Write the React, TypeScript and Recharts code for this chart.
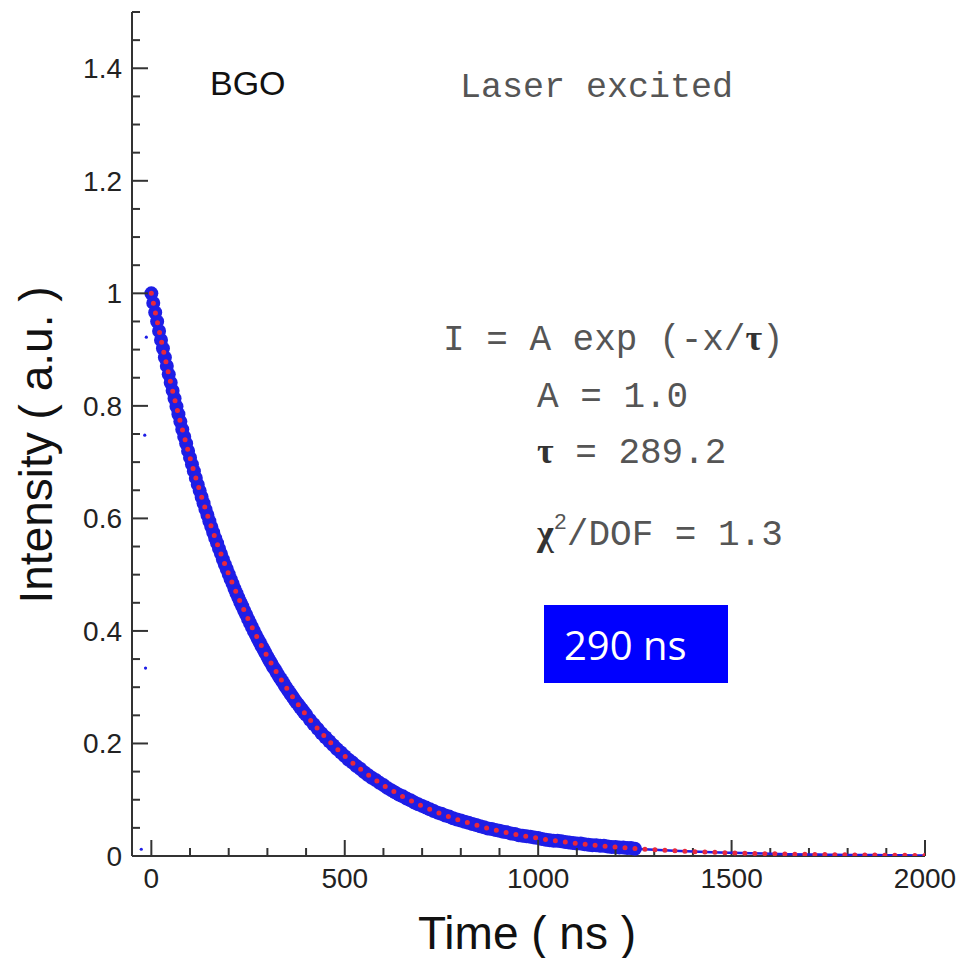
import React from "react";
import { ComposedChart, XAxis, YAxis, Scatter, Line } from "recharts";

// ---- data ----
const denseTimes = [
  0, 5, 10, 15, 20, 25, 30, 35, 40, 45,
  50, 55, 60, 65, 70, 75, 80, 85, 90, 95,
  100, 105, 110, 115, 120, 125, 130, 135, 140, 145,
  150, 155, 160, 165, 170, 175, 180, 185, 190, 195,
  200, 205, 210, 215, 220, 225, 230, 235, 240, 245,
  250, 255, 260, 265, 270, 275, 280, 285, 290, 295,
  300, 305, 310, 315, 320, 325, 330, 335, 340, 345,
  350, 355, 360, 365, 370, 375, 380, 385, 390, 395,
  400,
];
const denseIntensity = [
  1.0, 0.983, 0.966, 0.95, 0.933, 0.917, 0.902, 0.886, 0.871, 0.856,
  0.841, 0.827, 0.813, 0.799, 0.785, 0.772, 0.758, 0.745, 0.733, 0.72,
  0.708, 0.696, 0.684, 0.672, 0.66, 0.649, 0.638, 0.627, 0.616, 0.606,
  0.595, 0.585, 0.575, 0.565, 0.556, 0.546, 0.537, 0.527, 0.518, 0.51,
  0.501, 0.492, 0.484, 0.475, 0.467, 0.459, 0.451, 0.444, 0.436, 0.429,
  0.421, 0.414, 0.407, 0.4, 0.393, 0.386, 0.38, 0.373, 0.367, 0.361,
  0.354, 0.348, 0.342, 0.336, 0.331, 0.325, 0.319, 0.314, 0.309, 0.303,
  0.298, 0.293, 0.288, 0.283, 0.278, 0.273, 0.269, 0.264, 0.26, 0.255,
  0.251,
];
const sparseTimes = [
  410, 420, 430, 440, 450, 460, 470, 480, 490, 500,
  510, 520, 530, 540, 550, 560, 570, 580, 590, 600,
  610, 620, 630, 640, 650, 660, 670, 680, 690, 700,
  710, 720, 730, 740, 750, 760, 770, 780, 790, 800,
  810, 820, 830, 840, 850, 860, 870, 880, 890, 900,
  910, 920, 930, 940, 950, 960, 970, 980, 990, 1000,
  1010, 1020, 1030, 1040, 1050, 1060, 1070, 1080, 1090, 1100,
  1110, 1120, 1130, 1140, 1150, 1160, 1170, 1180, 1190, 1200,
  1210, 1220, 1230, 1240, 1250,
];
const sparseIntensity = [
  0.242, 0.234, 0.226, 0.218, 0.211, 0.204, 0.197, 0.19, 0.184, 0.1775,
  0.171, 0.166, 0.16, 0.155, 0.149, 0.144, 0.139, 0.135, 0.13, 0.126,
  0.121, 0.117, 0.113, 0.109, 0.106, 0.102, 0.099, 0.095, 0.092, 0.089,
  0.086, 0.083, 0.08, 0.077, 0.075, 0.072, 0.07, 0.067, 0.065, 0.063,
  0.061, 0.059, 0.057, 0.055, 0.053, 0.051, 0.049, 0.048, 0.046, 0.045,
  0.043, 0.042, 0.04, 0.039, 0.037, 0.036, 0.035, 0.034, 0.033, 0.032,
  0.03, 0.029, 0.028, 0.027, 0.027, 0.026, 0.025, 0.024, 0.023, 0.022,
  0.022, 0.021, 0.02, 0.019, 0.019, 0.018, 0.018, 0.017, 0.016, 0.016,
  0.015, 0.015, 0.014, 0.014, 0.013,
];
const tailTimes = [1250, 1300, 1350, 1400, 1450, 1500, 1550, 1600, 1650, 1700, 1750, 1800, 1850, 1900, 1950, 2000];
const tailIntensity = [0.013, 0.011, 0.0094, 0.0079, 0.0066, 0.0056, 0.0047, 0.004, 0.0033, 0.0028, 0.0024, 0.002, 0.0017, 0.0014, 0.0012, 0.001];
const strayTimes = [-13, -17, -15, -26];
const strayIntensity = [0.922, 0.748, 0.334, 0.012];
const fitTimes = [
  0, 50, 100, 150, 200, 250, 300, 350, 400, 450, 500, 550, 600, 650, 700, 750, 800, 850, 900, 950,
  1000, 1050, 1100, 1150, 1200, 1250, 1300, 1350, 1400, 1450, 1500, 1550, 1600, 1650, 1700, 1750,
  1800, 1850, 1900, 1950, 2000,
];
const fitIntensity = [
  1.0, 0.8412, 0.7077, 0.5953, 0.5008, 0.4213, 0.3544, 0.2981, 0.2508, 0.211, 0.1775, 0.1493, 0.1256,
  0.1057, 0.0889, 0.0748, 0.0629, 0.0529, 0.0445, 0.0374, 0.0315, 0.0265, 0.0223, 0.0188, 0.0158,
  0.0133, 0.0112, 0.0094, 0.0079, 0.0066, 0.0056, 0.0047, 0.004, 0.0033, 0.0028, 0.0024, 0.002,
  0.0017, 0.0014, 0.0012, 0.001,
];
const xTicks = [0, 100, 200, 300, 400, 500, 600, 700, 800, 900, 1000, 1100, 1200, 1300, 1400, 1500, 1600, 1700, 1800, 1900, 2000];
const xMajor = [0, 500, 1000, 1500, 2000];
const yTicks = [
  0, 0.05, 0.1, 0.15, 0.2, 0.25, 0.3, 0.35, 0.4, 0.45, 0.5, 0.55, 0.6, 0.65, 0.7, 0.75, 0.8, 0.85,
  0.9, 0.95, 1.0, 1.05, 1.1, 1.15, 1.2, 1.25, 1.3, 1.35, 1.4, 1.45, 1.5,
];
const yMajor = [0, 0.2, 0.4, 0.6, 0.8, 1.0, 1.2, 1.4];
const yMajorLabels = ["0", "0.2", "0.4", "0.6", "0.8", "1", "1.2", "1.4"];

const zip = (ts: number[], vs: number[]) => ts.map((t, i) => ({ t, y: vs[i] }));
const blueData = [...zip(denseTimes, denseIntensity), ...zip(sparseTimes, sparseIntensity)];
const tailData = zip(tailTimes, tailIntensity);
const strayData = zip(strayTimes, strayIntensity);
const fitData = zip(fitTimes, fitIntensity);

// ---- layout ----
const W = 960;
const H = 958;
const MARGIN = { top: 12, right: 35, bottom: 0, left: 0 };
const Y_AXIS_W = 132;
const X_AXIS_H = 102;
const PLOT_LEFT = MARGIN.left + Y_AXIS_W;
const PLOT_RIGHT = W - MARGIN.right;
const PLOT_TOP = MARGIN.top;
const PLOT_BOTTOM = H - MARGIN.bottom - X_AXIS_H;

const AXIS = "#333";
const BLUE = "#1e1ee6";
const RED = "#e8283c";
const SANS = "'Liberation Sans', Arial, sans-serif";
const MONO = "'Liberation Mono', 'Courier New', monospace";
const SERIF = "'Liberation Serif', 'Times New Roman', serif";

const isYMajor = (v: number) => yMajor.some((m) => Math.abs(m - v) < 1e-6);

const BottomTick = (props: any) => {
  const { x, payload } = props;
  const v = payload.value;
  const major = xMajor.includes(v);
  const ay = PLOT_BOTTOM;
  return (
    <g>
      <line x1={x} x2={x} y1={ay} y2={ay - (major ? 16 : 8)} stroke={AXIS} strokeWidth={2} />
      {major && (
        <text x={x} y={ay + 32} textAnchor="middle" fontSize={28} fontFamily={SANS} fill="#222">
          {v}
        </text>
      )}
    </g>
  );
};
const TopTick = (props: any) => {
  const { x, payload } = props;
  const major = xMajor.includes(payload.value);
  const ay = PLOT_TOP;
  return <line x1={x} x2={x} y1={ay} y2={ay + (major ? 16 : 8)} stroke={AXIS} strokeWidth={2} />;
};
const LeftTick = (props: any) => {
  const { y, payload } = props;
  const v = payload.value;
  const major = isYMajor(v);
  const idx = yMajor.findIndex((m) => Math.abs(m - v) < 1e-6);
  const ax = PLOT_LEFT;
  return (
    <g>
      <line x1={ax} x2={ax + (major ? 16 : 8)} y1={y} y2={y} stroke={AXIS} strokeWidth={2} />
      {major && (
        <text x={ax - 10} y={y + 10} textAnchor="end" fontSize={28} fontFamily={SANS} fill="#222">
          {yMajorLabels[idx]}
        </text>
      )}
    </g>
  );
};
const RightTick = (props: any) => {
  const { y, payload } = props;
  const major = isYMajor(payload.value);
  const ax = PLOT_RIGHT;
  return <line x1={ax} x2={ax - (major ? 16 : 8)} y1={y} y2={y} stroke={AXIS} strokeWidth={2} />;
};

const BigDot = (props: any) => <circle cx={props.cx} cy={props.cy} r={7} fill={BLUE} />;
const SmallDot = (props: any) => <circle cx={props.cx} cy={props.cy} r={1.6} fill={BLUE} />;

const axisCommon = {
  tickSize: 0,
  tickMargin: 0,
  tickLine: false,
  interval: 0 as const,
  allowDataOverflow: true,
  axisLine: { stroke: AXIS, strokeWidth: 2 },
};

export default function App() {
  return (
    <div style={{ position: "absolute", left: 0, top: 0, width: W, height: H, background: "#fff" }}>
      <ComposedChart width={W} height={H} margin={MARGIN}>
        <XAxis
          {...axisCommon}
          dataKey="t"
          type="number"
          domain={[-50, 2000]}
          ticks={xTicks}
          height={X_AXIS_H}
          tick={<BottomTick />}
        />
        <XAxis
          {...axisCommon}
          xAxisId="top"
          orientation="top"
          dataKey="t"
          type="number"
          domain={[-50, 2000]}
          ticks={xTicks}
          height={0}
          tick={<TopTick />}
        />
        <YAxis
          {...axisCommon}
          type="number"
          domain={[0, 1.5]}
          ticks={yTicks}
          width={Y_AXIS_W}
          tick={<LeftTick />}
        />
        <YAxis
          {...axisCommon}
          yAxisId="right"
          orientation="right"
          type="number"
          domain={[0, 1.5]}
          ticks={yTicks}
          width={0}
          tick={<RightTick />}
        />
        <Scatter data={strayData} dataKey="y" shape={<SmallDot />} isAnimationActive={false} />
        <Scatter data={blueData} dataKey="y" shape={<BigDot />} isAnimationActive={false} />
        <Line
          data={tailData}
          dataKey="y"
          type="monotone"
          stroke={BLUE}
          strokeWidth={2.5}
          dot={false}
          activeDot={false}
          isAnimationActive={false}
          zIndex={2400}
        />
        <Line
          data={fitData}
          dataKey="y"
          type="monotone"
          stroke={RED}
          strokeWidth={5}
          strokeDasharray="0 10"
          strokeLinecap="round"
          dot={false}
          activeDot={false}
          isAnimationActive={false}
          zIndex={2500}
        />
      </ComposedChart>
      <svg
        width={W}
        height={H}
        style={{ position: "absolute", left: 0, top: 0, pointerEvents: "none" }}
      >
        <text x={210} y={95} fontSize={34} fontFamily={SANS} fill="#111">BGO</text>
        <text x={460} y={97} fontSize={35} fontFamily={MONO} fill="#555">Laser excited</text>
        <text x={443} y={350} fontSize={36} fontFamily={MONO} fill="#555">
          I = A exp (-x/<tspan fontFamily={SERIF} fontWeight="bold" fill="#333">τ</tspan>)
        </text>
        <text x={537} y={407} fontSize={36} fontFamily={MONO} fill="#555">A = 1.0</text>
        <text x={537} y={463} fontSize={36} fontFamily={MONO} fill="#555">
          <tspan fontFamily={SERIF} fontWeight="bold" fill="#333">τ</tspan> = 289.2
        </text>
        <text x={537} y={545} fontSize={36} fontFamily={MONO} fill="#555">
          <tspan fontFamily={SERIF} fontWeight="bold" fill="#333">χ</tspan>
          <tspan fontSize={22} dy={-16}>2</tspan>
          <tspan dy={16}>/DOF = 1.3</tspan>
        </text>
        <rect x={544} y={605} width={184} height={78} fill="#0000ff" />
        <text x={564} y={660} fontSize={40} fontFamily="'Open Sans', 'Noto Sans', sans-serif" fill="#fff">290 ns</text>
        <text x={527} y={949} textAnchor="middle" fontSize={46} fontFamily={SANS} fill="#111">Time ( ns )</text>
        <text
          x={52}
          y={445}
          textAnchor="middle"
          fontSize={46}
          fontFamily={SANS}
          fill="#111"
          transform="rotate(-90 52 445)"
        >
          Intensity ( a.u. )
        </text>
      </svg>
    </div>
  );
}
